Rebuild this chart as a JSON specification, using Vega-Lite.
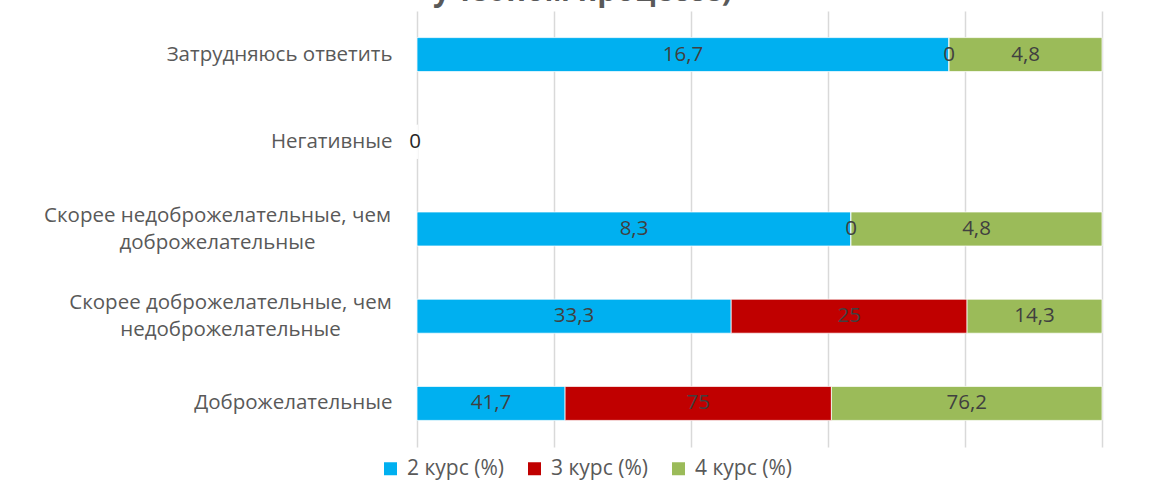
{
  "$schema": "https://vega.github.io/schema/vega-lite/v6.json",
  "width": 685,
  "height": 436,
  "autosize": {"type": "none"},
  "padding": {"left": 417, "top": 11, "right": 47, "bottom": 53},
  "background": "white",
  "config": {
    "view": {"stroke": null},
    "font": "Open Sans",
    "locale": {"number": {"decimal": ",", "thousands": " ", "grouping": [3], "currency": ["", ""]}}
  },
  "title": {
    "text": "учебном процессе)",
    "anchor": "middle",
    "frame": "group",
    "dx": -177,
    "dy": 22,
    "offset": 2,
    "baseline": "alphabetic",
    "font": "Open Sans",
    "fontSize": 30,
    "fontWeight": "bold",
    "color": "#595959"
  },
  "data": {
    "values": [
      {"category": "Затрудняюсь ответить", "course": "2 курс (%)", "value": 16.7},
      {"category": "Затрудняюсь ответить", "course": "3 курс (%)", "value": 0},
      {"category": "Затрудняюсь ответить", "course": "4 курс (%)", "value": 4.8},
      {"category": "Негативные", "course": "2 курс (%)", "value": 0},
      {"category": "Негативные", "course": "3 курс (%)", "value": 0},
      {"category": "Негативные", "course": "4 курс (%)", "value": 0},
      {"category": "Скорее недоброжелательные, чем доброжелательные", "course": "2 курс (%)", "value": 8.3},
      {"category": "Скорее недоброжелательные, чем доброжелательные", "course": "3 курс (%)", "value": 0},
      {"category": "Скорее недоброжелательные, чем доброжелательные", "course": "4 курс (%)", "value": 4.8},
      {"category": "Скорее доброжелательные, чем недоброжелательные", "course": "2 курс (%)", "value": 33.3},
      {"category": "Скорее доброжелательные, чем недоброжелательные", "course": "3 курс (%)", "value": 25},
      {"category": "Скорее доброжелательные, чем недоброжелательные", "course": "4 курс (%)", "value": 14.3},
      {"category": "Доброжелательные", "course": "2 курс (%)", "value": 41.7},
      {"category": "Доброжелательные", "course": "3 курс (%)", "value": 75},
      {"category": "Доброжелательные", "course": "4 курс (%)", "value": 76.2}
    ]
  },
  "encoding": {
    "y": {
      "field": "category",
      "type": "nominal",
      "sort": ["Затрудняюсь ответить", "Негативные", "Скорее недоброжелательные, чем доброжелательные", "Скорее доброжелательные, чем недоброжелательные", "Доброжелательные"],
      "scale": {"paddingInner": 0.61, "paddingOuter": 0.305},
      "axis": {
        "title": null,
        "domain": false,
        "ticks": false,
        "grid": false,
        "labelFont": "Open Sans",
        "labelFontSize": 20.5,
        "labelColor": "#595959",
        "labelLimit": 0,
        "labelLineHeight": 27,
        "labelExpr": "datum.value === 'Скорее недоброжелательные, чем доброжелательные' ? ['Скорее недоброжелательные, чем', 'доброжелательные'] : datum.value === 'Скорее доброжелательные, чем недоброжелательные' ? ['Скорее доброжелательные, чем', 'недоброжелательные'] : datum.value",
        "labelAlign": {"condition": {"test": "indexof(datum.value, 'Скорее') === 0", "value": "center"}, "value": "right"},
        "labelPadding": {"condition": [
          {"test": "datum.value === 'Скорее недоброжелательные, чем доброжелательные'", "value": 200},
          {"test": "datum.value === 'Скорее доброжелательные, чем недоброжелательные'", "value": 187}
        ], "value": 25},
        "labelOffset": {"condition": {"test": "indexof(datum.value, 'Скорее') === 0", "value": -13}, "value": 0}
      }
    }
  },
  "layer": [
    {
      "mark": {"type": "bar", "stroke": "white", "strokeWidth": 0.75},
      "encoding": {
        "x": {
          "aggregate": "sum",
          "field": "value",
          "type": "quantitative",
          "stack": "normalize",
          "scale": {"domain": [0, 1]},
          "axis": {
            "title": null,
            "labels": false,
            "ticks": false,
            "domain": false,
            "grid": true,
            "gridColor": "#d9d9d9",
            "gridWidth": 1.5,
            "values": [0, 0.2, 0.4, 0.6, 0.8, 1]
          }
        },
        "color": {
          "field": "course",
          "type": "nominal",
          "scale": {"domain": ["2 курс (%)", "3 курс (%)", "4 курс (%)"], "range": ["#00B0F0", "#C00000", "#9BBB59"]},
          "legend": {
            "title": null,
            "orient": "none",
            "direction": "horizontal",
            "legendX": -37,
            "legendY": 447,
            "symbolType": "square",
            "symbolSize": 169,
            "symbolStrokeWidth": 0,
            "labelFont": "Open Sans",
            "labelFontSize": 21,
            "labelColor": "#595959",
            "labelOffset": 6,
            "columnPadding": 20
          }
        },
        "order": {"field": "course", "type": "nominal"}
      }
    },
    {
      "transform": [{"filter": "datum.category !== 'Негативные'"}],
      "mark": {"type": "text", "font": "Open Sans", "fontSize": 20.5, "color": "#404040", "baseline": "middle", "align": "center"},
      "encoding": {
        "x": {"aggregate": "sum", "field": "value", "type": "quantitative", "stack": "normalize", "bandPosition": 0.5},
        "detail": {"field": "course", "type": "nominal"},
        "order": {"field": "course", "type": "nominal"},
        "text": {"aggregate": "sum", "field": "value", "type": "quantitative", "format": "~g"}
      }
    },
    {
      "transform": [{"filter": "datum.category === 'Негативные'"}],
      "mark": {"type": "text", "font": "Open Sans", "fontSize": 20.5, "color": "#262626", "baseline": "middle", "align": "center", "dx": -2},
      "encoding": {
        "x": {"aggregate": "sum", "field": "value", "type": "quantitative", "stack": null},
        "text": {"aggregate": "sum", "field": "value", "type": "quantitative", "format": "~g"}
      }
    }
  ]
}
